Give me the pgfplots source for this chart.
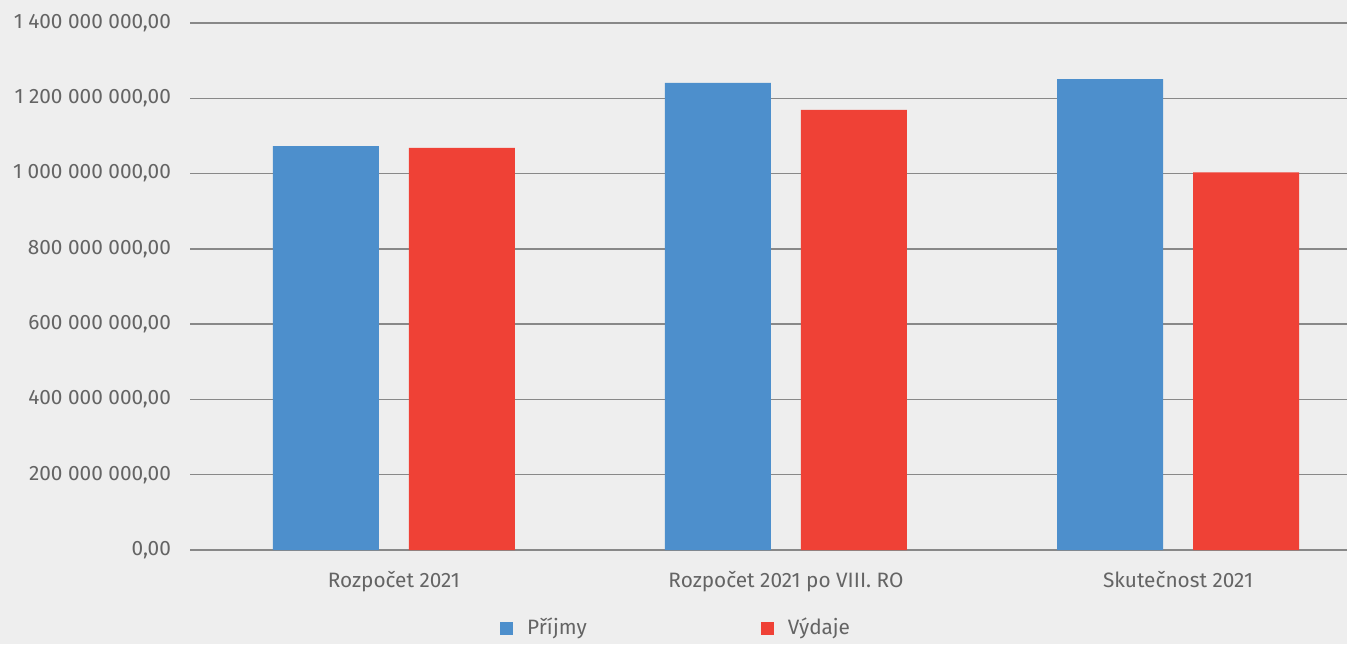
\documentclass[border=0pt]{standalone}
\usepackage{fontspec}
\setmainfont{Fira Sans}
\usepackage{pgfplots}
\pgfplotsset{compat=1.18}
\definecolor{bg}{RGB}{238,238,238}
\definecolor{prijmy}{RGB}{77,143,204}
\definecolor{vydaje}{RGB}{239,65,54}
\definecolor{gridc}{RGB}{136,136,136}
\definecolor{txt}{RGB}{100,100,100}
\begin{document}
\begin{tikzpicture}
\clip (0,0) rectangle (673.5pt,322pt);
\fill[bg] (0,0) rectangle (673.5pt,322pt);
\begin{axis}[
  at={(95pt,47pt)}, anchor=south west,
  scale only axis, width=578.5pt, height=263.5pt,
  ybar=15pt, bar width=53pt,
  xmin=-0.52, xmax=2.431, ymin=0, ymax=1.4e9,
  axis line style={draw=none},
  xtick={0,1,2},
  xticklabels={Rozpočet 2021,Rozpočet 2021 po VIII. RO,Skutečnost 2021},
  ytick={0,2e8,4e8,6e8,8e8,1e9,1.2e9,1.4e9},
  yticklabels={{0,00},{200 000 000,00},{400 000 000,00},{600 000 000,00},{800 000 000,00},{1 000 000 000,00},{1 200 000 000,00},{1 400 000 000,00}},
  scaled y ticks=false,
  major tick length=0pt,
  ymajorgrids, grid style={gridc, line width=0.75pt},
  ticklabel style={font=\fontsize{10.4}{12}\selectfont, text=txt},
  yticklabel style={xshift=-6pt},
  xticklabel style={yshift=-7pt},
  legend style={at={(0.421,-0.148)}, anchor=center, draw=none, fill=none,
    legend columns=2, font=\fontsize{10.4}{12}\selectfont, text=txt,
    /tikz/every odd column/.append style={column sep=5pt},
    /tikz/every even column/.append style={column sep=85pt}},
  legend image code/.code={\fill[#1] (0pt,-3.25pt) rectangle (6.5pt,3.25pt);},
]
\addplot[draw=none, fill=prijmy] coordinates {(0,1.073e9) (1,1.241e9) (2,1.251e9)};
\addplot[draw=none, fill=vydaje] coordinates {(0,1.068e9) (1,1.169e9) (2,1.003e9)};
\legend{Příjmy,Výdaje}
\end{axis}
\end{tikzpicture}
\end{document}
